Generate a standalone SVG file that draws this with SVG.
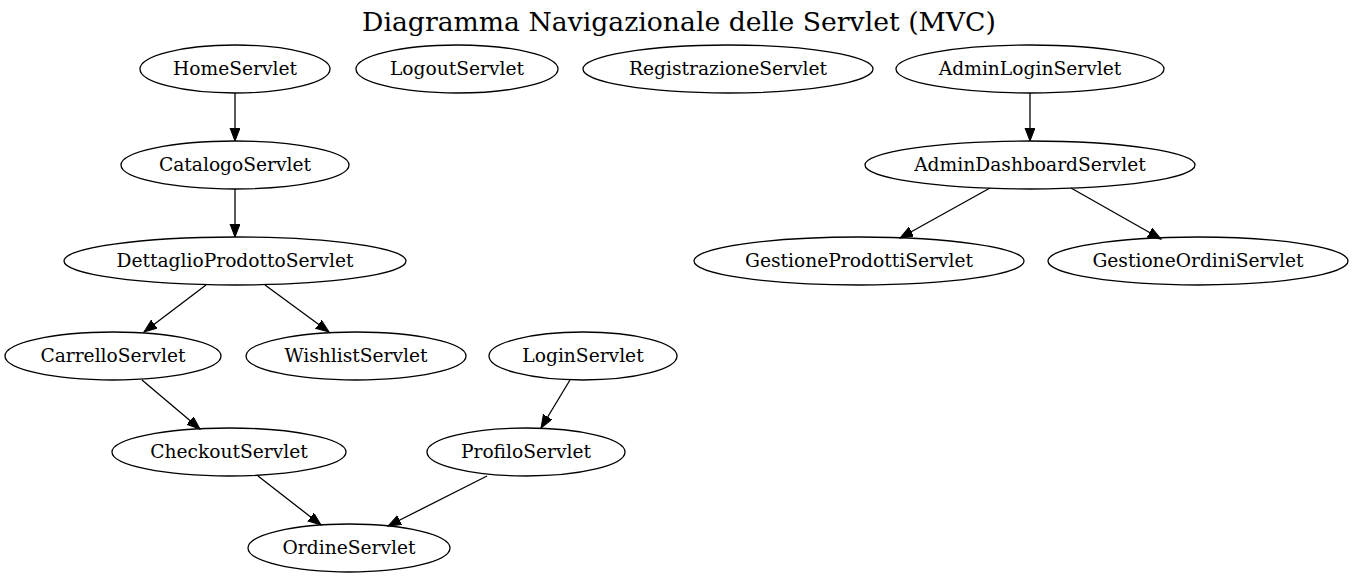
<svg xmlns="http://www.w3.org/2000/svg" width="1359" height="579" viewBox="0 0 1359 579">
<style>
.n ellipse{fill:none;stroke:#000;stroke-width:1.3}
.n text{font-family:"DejaVu Serif","Liberation Serif",serif;font-size:18.67px;text-anchor:middle;fill:#000}
.e line{stroke:#000;stroke-width:1.3;marker-end:url(#arr)}
.title{font-family:"DejaVu Serif","Liberation Serif",serif;font-size:26.67px;text-anchor:middle;fill:#000}
</style>
<defs>
<marker id="arr" markerUnits="userSpaceOnUse" markerWidth="14" markerHeight="11" refX="13" refY="5" orient="auto">
<path d="M0,0 L13,5 L0,10 z" fill="#000" stroke="#000" stroke-width="1"/>
</marker>
</defs>
<rect width="1359" height="579" fill="#fff"/>
<text class="title" x="679" y="31">Diagramma Navigazionale delle Servlet (MVC)</text>
<g id="edges" class="e">
<line x1="235" y1="93" x2="235" y2="141"/>
<line x1="235" y1="189" x2="235" y2="237"/>
<line x1="206" y1="285" x2="144" y2="332"/>
<line x1="265" y1="285" x2="329" y2="332"/>
<line x1="142" y1="380" x2="200" y2="429"/>
<line x1="258" y1="476" x2="321" y2="525"/>
<line x1="570" y1="380" x2="541" y2="428"/>
<line x1="487" y1="476" x2="388" y2="526"/>
<line x1="1030" y1="93" x2="1030" y2="141"/>
<line x1="990" y1="188" x2="900" y2="238"/>
<line x1="1071" y1="188" x2="1161" y2="239"/>
</g>
<g id="HomeServlet" class="n"><ellipse cx="235" cy="69" rx="95" ry="24"/><text x="235" y="75">HomeServlet</text></g>
<g id="LogoutServlet" class="n"><ellipse cx="457" cy="69" rx="101" ry="24"/><text x="457" y="75">LogoutServlet</text></g>
<g id="RegistrazioneServlet" class="n"><ellipse cx="728" cy="69" rx="145" ry="24"/><text x="728" y="75">RegistrazioneServlet</text></g>
<g id="AdminLoginServlet" class="n"><ellipse cx="1030" cy="69" rx="134" ry="24"/><text x="1030" y="75">AdminLoginServlet</text></g>
<g id="CatalogoServlet" class="n"><ellipse cx="235" cy="165" rx="114" ry="24"/><text x="235" y="171">CatalogoServlet</text></g>
<g id="AdminDashboardServlet" class="n"><ellipse cx="1030" cy="165" rx="165" ry="24"/><text x="1030" y="171">AdminDashboardServlet</text></g>
<g id="DettaglioProdottoServlet" class="n"><ellipse cx="235" cy="261" rx="171" ry="24"/><text x="235" y="267">DettaglioProdottoServlet</text></g>
<g id="GestioneProdottiServlet" class="n"><ellipse cx="859" cy="261" rx="165" ry="24"/><text x="859" y="267">GestioneProdottiServlet</text></g>
<g id="GestioneOrdiniServlet" class="n"><ellipse cx="1198" cy="261" rx="150" ry="24"/><text x="1198" y="267">GestioneOrdiniServlet</text></g>
<g id="CarrelloServlet" class="n"><ellipse cx="113" cy="356" rx="108" ry="24"/><text x="113" y="362">CarrelloServlet</text></g>
<g id="WishlistServlet" class="n"><ellipse cx="356" cy="356" rx="110" ry="24"/><text x="356" y="362">WishlistServlet</text></g>
<g id="LoginServlet" class="n"><ellipse cx="583" cy="356" rx="94" ry="24"/><text x="583" y="362">LoginServlet</text></g>
<g id="CheckoutServlet" class="n"><ellipse cx="229" cy="452" rx="117" ry="24"/><text x="229" y="458">CheckoutServlet</text></g>
<g id="ProfiloServlet" class="n"><ellipse cx="526" cy="452" rx="99" ry="24"/><text x="526" y="458">ProfiloServlet</text></g>
<g id="OrdineServlet" class="n"><ellipse cx="349" cy="548" rx="101" ry="24"/><text x="349" y="554">OrdineServlet</text></g>
</svg>
